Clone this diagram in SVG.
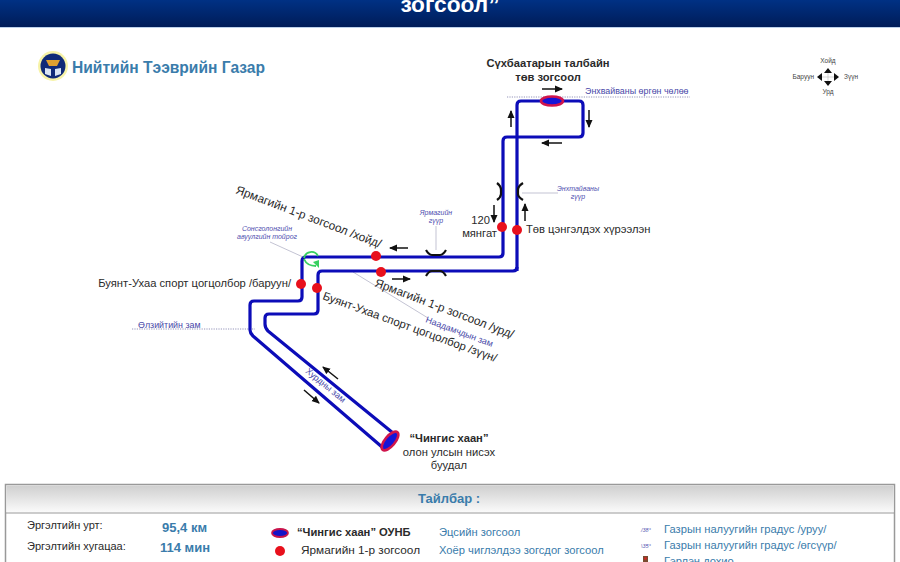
<svg xmlns="http://www.w3.org/2000/svg" width="900" height="562" viewBox="0 0 900 562">
<style>
text{font-family:"Liberation Sans",Arial,sans-serif;fill:#2a2a2a}
.route{fill:none;stroke:#0c0cb8;stroke-width:3.2;stroke-linejoin:round}
.arrow{fill:none;stroke:#111;stroke-width:1.5;marker-end:url(#ah)}
.dot{fill:none;stroke:#7a7aa8;stroke-width:.8;stroke-dasharray:1.2 1.2}
.lead{fill:none;stroke:#b4b4c8;stroke-width:.8}
.bridge{fill:none;stroke:#111;stroke-width:2.2}
.stop{fill:#e8101c}
.term{fill:#1414d8;stroke:#d0144c;stroke-width:2.6}
.lbl{font-size:11.2px}
.rot{font-size:11.8px}
.c{text-anchor:middle}
.b{font-weight:700}
.st{font-size:8.9px;fill:#4848a8}
.mini{font-size:7px;font-style:italic;fill:#5050b0;text-anchor:middle}
.leg{font-size:11.2px;fill:#3a7cab}
.val{font-size:13px;font-weight:700;fill:#3a7cab}
.cm{font-size:6.500px;fill:#444}
.k{font-size:11px}
.deg{font-size:5.500px;font-style:italic;fill:#5050b0}
</style>
<defs>
<linearGradient id="hd" x1="0" y1="0" x2="0" y2="1"><stop offset="0" stop-color="#003184"/><stop offset="1" stop-color="#001c58"/></linearGradient>
<linearGradient id="lg" x1="0" y1="0" x2="0" y2="1"><stop offset="0" stop-color="#cfcfcf"/><stop offset="1" stop-color="#fbfbfb"/></linearGradient>
<marker id="ah" markerUnits="userSpaceOnUse" markerWidth="8" markerHeight="8" refX="7" refY="4" orient="auto"><path d="M0 0.5L8 4L0 7.500z" fill="#111"/></marker>
</defs>
<rect width="900" height="562" fill="#fff"/>
<g id="header">
<rect width="900" height="27" fill="url(#hd)"/>
<rect y="27" width="900" height="1" fill="#bcd0ea"/>
<text x="450" y="12" class="c b" style="font-size:22.700px;fill:#fff">зогсоол”</text>
</g>
<g id="logo">
<circle cx="53" cy="66" r="15" fill="#f7f3a8"/>
<circle cx="53" cy="66" r="12.500" fill="#102a78"/>
<path d="M46 60h14l-3 6h-8z" fill="#e0a030"/>
<path d="M45 68l6 1v7l-6-2zM61 68l-6 1v7l6-2z" fill="#d8e4f4"/>
<text x="72" y="73" class="b" style="font-size:15.600px;fill:#3a7cab">Нийтийн Тээврийн Газар</text>
</g>
<g id="connectors">
<path class="dot" d="M507 97H690M132 329H255"/>
<path class="lead" d="M522 193H558M436 226V250M270 242L303 257M353 272L428 318"/>
<path class="route" d="M517 271V105Q517 101 521 101H579Q583 101 583 105V133Q583 137 579 137H507Q503 137 503 141V253Q503 257 499 257H306Q302 257 302 261V297Q302 301 298 301H254Q250 301 250 305V330Q250 333 253 336L382 447"/>
<path class="route" d="M517 267Q517 271 513 271H322Q318 271 318 275V310Q318 314 314 314H269Q265 314 265 318V324Q265 328 268 331L393 433"/>
<path class="bridge" d="M426 250Q429 255 432 255H440Q443 255 446 250M426 276Q429 271 432 271H440Q443 271 446 276"/>
<path class="bridge" d="M497 183Q501 186 501 190V194Q501 197 497 200M523 183Q518 186 518 190V194Q518 197 523 200"/>
<path d="M304 258A7.500 7.500 0 0 1 318 256" fill="none" stroke="#38d060" stroke-width="1.800"/>
<path d="M304 259Q307 266 316 266" fill="none" stroke="#38d060" stroke-width="1.800"/>
<path d="M313 262L319 260V268z" fill="#38d060"/>
<path class="arrow" d="M542 89H562"/>
<path class="arrow" d="M511 127V111"/>
<path class="arrow" d="M589 110V127"/>
<path class="arrow" d="M562 143H542"/>
<path class="arrow" d="M494 205V222"/>
<path class="arrow" d="M525 221V204"/>
<path class="arrow" d="M408 248H390"/>
<path class="arrow" d="M392 279H410"/>
<path class="arrow" d="M338 379L323 367"/>
<path class="arrow" d="M304 390L319 403"/>
</g>
<g id="stop-sukhbaatar"><ellipse class="term" cx="552" cy="101" rx="11" ry="4.500"/>
<text x="548" y="67" class="lbl c b">Сүхбаатарын талбайн</text><text x="548" y="81" class="lbl c b">төв зогсоол</text></g>
<g id="stop-airport"><ellipse class="term" cx="390" cy="441" rx="11.500" ry="5" transform="rotate(-50 390 441)"/>
<text x="449" y="442" class="lbl c b">“Чингис хаан”</text><text x="449" y="456" class="lbl c">олон улсын нисэх</text><text x="449" y="469" class="lbl c">буудал</text></g>
<g id="stop-yarmag-n"><circle class="stop" cx="376" cy="256" r="5"/>
<text transform="translate(235 193) rotate(20.800)" class="rot">Ярмагийн 1-р зогсоол /хойд/</text></g>
<g id="stop-yarmag-s"><circle class="stop" cx="381" cy="272" r="5"/>
<text transform="translate(374 286) rotate(20.800)" class="rot">Ярмагийн 1-р зогсоол /урд/</text></g>
<g id="stop-buyant-w"><circle class="stop" cx="301" cy="284" r="5"/>
<text x="291" y="287" class="lbl" text-anchor="end">Буянт-Ухаа спорт цогцолбор /баруун/</text></g>
<g id="stop-buyant-e"><circle class="stop" cx="317" cy="288" r="5"/>
<text transform="translate(322 299) rotate(20)" style="font-size:11.500px">Буянт-Ухаа спорт цогцолбор /зүүн/</text></g>
<g id="stop-120"><circle class="stop" cx="502" cy="227" r="5"/>
<text x="490" y="224" class="lbl" text-anchor="end">120</text><text x="497" y="237" class="lbl" text-anchor="end">мянгат</text></g>
<g id="stop-stadium"><circle class="stop" cx="517" cy="230" r="5"/>
<text x="526" y="233" class="lbl">Төв цэнгэлдэх хүрээлэн</text></g>
<g id="road-labels">
<text x="585" y="94" class="st">Энхвайваны өргөн чөлөө</text>
<text x="138" y="328" class="st">Өлзийтийн зам</text>
<text transform="translate(425 322) rotate(20.500)" class="st">Наадамчдын зам</text>
<text transform="translate(305 372) rotate(39.500)" class="st">Хурдны зам</text>
<text x="578" y="191" class="mini">Энхтайваны</text><text x="578" y="199" class="mini">гүүр</text>
<text x="436" y="215" class="mini">Ярмагийн</text><text x="436" y="223" class="mini">гүүр</text>
<text x="267" y="231" class="mini">Сонсголонгийн</text><text x="267" y="239" class="mini">авуулгийн тойрог</text>
</g>
<g id="compass">
<path d="M828 70V84M821 77H835" stroke="#bbb" stroke-width=".6"/>
<path d="M828 68l4 5h-8zM828 86l4-5h-8zM817 77l5-4v8zM839 77l-5-4v8z" fill="#111"/>
<text x="828" y="63" class="cm c">Хойд</text><text x="828" y="94" class="cm c">Урд</text>
<text x="814" y="79" class="cm" text-anchor="end">Баруун</text><text x="844" y="79" class="cm">Зүүн</text>
</g>
<g id="legend">
<rect x="5.500" y="484.500" width="889" height="90" fill="#fff" stroke="#999" stroke-width="1.500"/>
<rect x="6.500" y="485.500" width="887" height="27" fill="url(#lg)"/>
<path d="M6 513H894" stroke="#999" stroke-width="1.200"/>
<text x="449" y="503" class="c b" style="font-size:13px;fill:#3a7cab">Тайлбар :</text>
<text x="27" y="529" class="k">Эргэлтийн урт:</text>
<text x="27" y="550" class="k">Эргэлтийн хугацаа:</text>
<text x="27" y="570" class="k">Зогсоолын тоо:</text>
<text x="162" y="532" class="val">95,4 км</text>
<text x="160" y="552" class="val">114 мин</text>
<text x="162" y="572" class="val">8</text>
<ellipse cx="280" cy="533" rx="8" ry="4" fill="#1414c8" stroke="#c8144c" stroke-width="1.800"/>
<circle cx="280" cy="551" r="5" class="stop"/>
<circle cx="280" cy="569" r="5" class="stop"/>
<text x="297" y="536" class="b" style="font-size:11.200px">“Чингис хаан” ОУНБ</text>
<text x="301" y="554" style="font-size:11.800px">Ярмагийн 1-р зогсоол</text>
<text x="439" y="536" class="leg">Эцсийн зогсоол</text>
<text x="439" y="554" class="leg">Хоёр чиглэлдээ зогсдог зогсоол</text>
<text x="641" y="532" class="deg">/38°</text>
<text x="641" y="548" class="deg">\35°</text>
<text x="664" y="533" class="leg">Газрын налуугийн градус /уруу/</text>
<text x="664" y="549" class="leg">Газрын налуугийн градус /өгсүүр/</text>
<text x="664" y="565" class="leg">Гэрлэн дохио</text>
<rect x="643" y="556" width="5" height="8" fill="#7a4a30"/><circle cx="645.500" cy="558.500" r="1.200" fill="#e02020"/>
</g>
</svg>
